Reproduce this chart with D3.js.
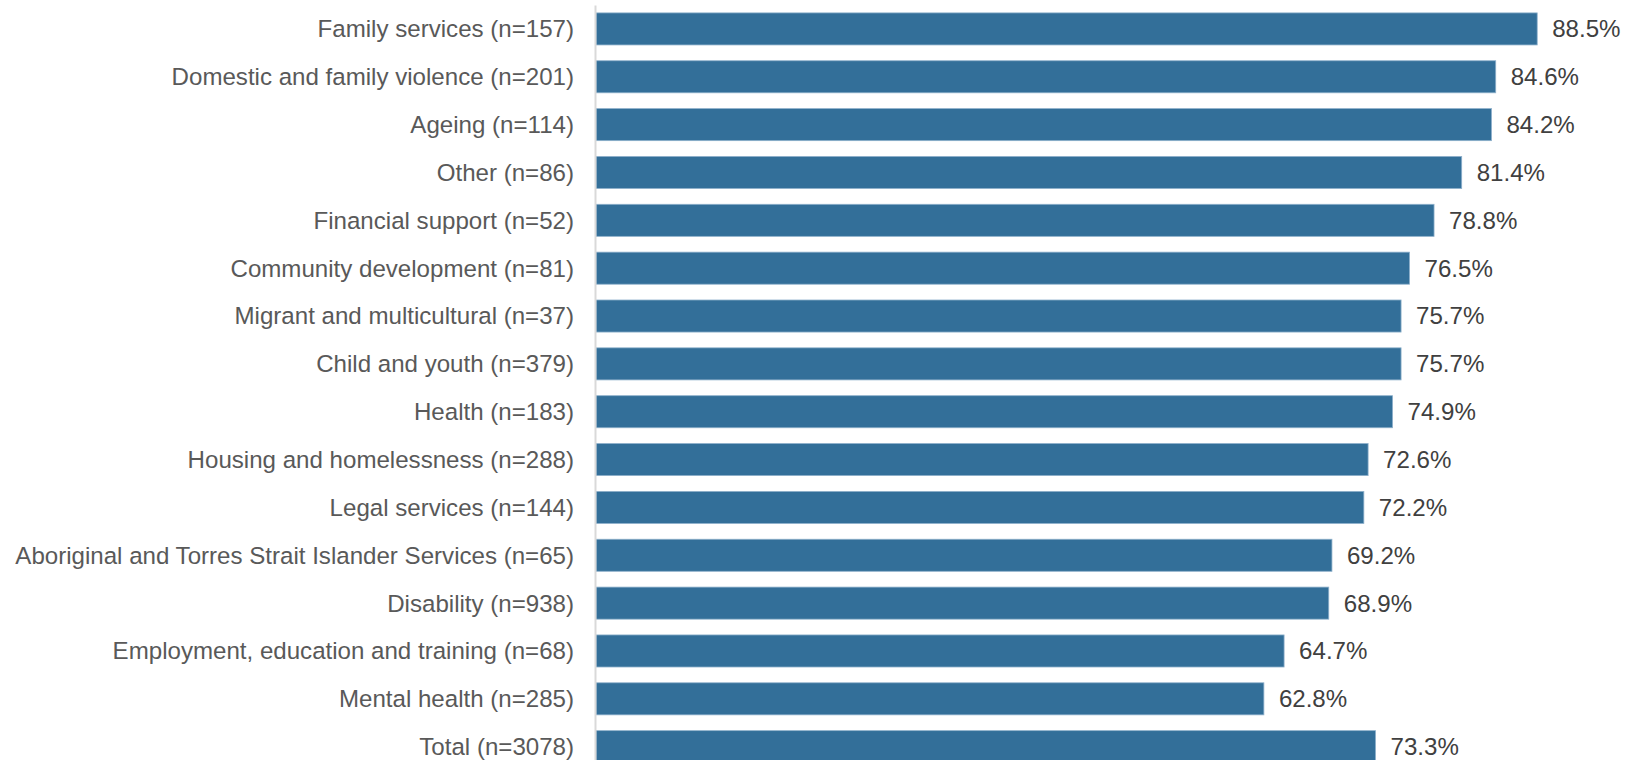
<!DOCTYPE html>
<html>
<head>
<meta charset="utf-8">
<script src="https://cdn.jsdelivr.net/npm/d3@7"></script>
<style>
  html, body { margin: 0; padding: 0; background: #fff; overflow: hidden; }
  svg { display: block; font-family: "Liberation Sans", Arial, sans-serif; }
</style>
</head>
<body>
<svg id="chart" width="1627" height="760"></svg>
<script>
const categories = [
  "Family services (n=157)",
  "Domestic and family violence (n=201)",
  "Ageing (n=114)",
  "Other (n=86)",
  "Financial support (n=52)",
  "Community development (n=81)",
  "Migrant and multicultural (n=37)",
  "Child and youth (n=379)",
  "Health (n=183)",
  "Housing and homelessness (n=288)",
  "Legal services (n=144)",
  "Aboriginal and Torres Strait Islander Services (n=65)",
  "Disability (n=938)",
  "Employment, education and training (n=68)",
  "Mental health (n=285)",
  "Total (n=3078)"
];
const values = [88.5, 84.6, 84.2, 81.4, 78.8, 76.5, 75.7, 75.7, 74.9, 72.6, 72.2, 69.2, 68.9, 64.7, 62.8, 73.3];

const data = categories.map((c, i) => ({ c, v: values[i] }));

const svg = d3.select("#chart");
const x0 = 596;
const x = d3.scaleLinear().domain([0, 100]).range([x0, x0 + 1063.5]);
const y = d3.scaleBand().domain(categories).range([5, 5 + 16 * 47.85])
  .paddingInner(0.33).paddingOuter(0.165);

// bars
svg.append("g").selectAll("rect").data(data).join("rect")
  .attr("x", x(0))
  .attr("y", d => y(d.c))
  .attr("width", d => x(d.v) - x(0))
  .attr("height", y.bandwidth())
  .attr("fill", "#336F99")
  .attr("stroke", "#8eb0cb")
  .attr("stroke-width", 0.8);

// axis line
const yAxis = d3.axisLeft(y).tickSize(0).tickPadding(21);
const ag = svg.append("g").attr("transform", `translate(${x0 - 1},0)`).call(yAxis);
ag.select(".domain").attr("stroke", "#d9d9d9").attr("stroke-width", 2);
ag.selectAll("text")
  .attr("font-size", "24.1px")
  .attr("fill", "#595959")
  .attr("font-family", "Liberation Sans, Arial, sans-serif")
  .attr("dy", "0.35em");

// value labels
svg.append("g").selectAll("text").data(data).join("text")
  .attr("x", d => x(d.v) + 15)
  .attr("y", d => y(d.c) + y.bandwidth() / 2)
  .attr("dy", "0.35em")
  .attr("font-size", "24.1px")
  .attr("fill", "#404040")
  .text(d => d.v.toFixed(1) + "%");
</script>
</body>
</html>
